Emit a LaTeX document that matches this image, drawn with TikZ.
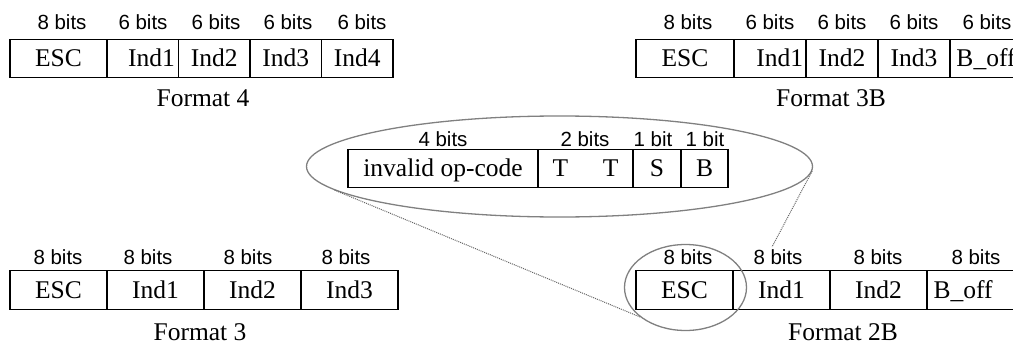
\documentclass[tikz,border=0pt]{standalone}
\usepackage{fontspec}
\setmainfont{Liberation Serif}
\newfontfamily\bitsfamily{Liberation Sans}
\usetikzlibrary{shapes.geometric}

\tikzset{
	cell/.style={draw, line width=1.4pt, minimum height=38.5pt, inner sep=0pt, text height=16.5pt, text depth=0pt, font=\fontsize{25.5}{30}\selectfont},
	bitlabel/.style={inner sep=0pt, text height=14.3pt, text depth=0pt, font=\bitsfamily\fontsize{20.5}{24}\selectfont},
	fmtname/.style={inner sep=0pt, text height=16.5pt, text depth=0pt, font=\fontsize{25.5}{30}\selectfont},
	zoomring/.style={draw=gray, line width=1.3pt, ellipse, inner sep=0pt},
	zoomline/.style={black!60, densely dotted, line width=1pt}
}

\begin{document}
\begin{tikzpicture}[x=1pt, y=-1pt]
	
	\clip (0,0) rectangle (1013,356);
	
	% Format 4
	\node [cell, minimum width=97] (fourEsc) at (58.5,58.5) {ESC};
	\node [cell, minimum width=71.5, text width=64, align=right] (fourA) at (142.75,58.5) {Ind1};
	\node [cell, minimum width=71.5] (fourB) at (214.25,58.5) {Ind2};
	\node [cell, minimum width=71.5] (fourC) at (285.75,58.5) {Ind3};
	\node [cell, minimum width=71.5] (fourD) at (357.25,58.5) {Ind4};
	\node [bitlabel] (fourBitsEsc) at (62,22) {8 bits};
	\node [bitlabel] (fourBitsA) at (143,22) {6 bits};
	\node [bitlabel] (fourBitsB) at (216,22) {6 bits};
	\node [bitlabel] (fourBitsC) at (288,22) {6 bits};
	\node [bitlabel] (fourBitsD) at (362,22) {6 bits};
	\node [fmtname] (fourName) at (203,98) {Format 4};
	
	% Format 3B
	\node [cell, minimum width=98] (threeBEsc) at (685,58.5) {ESC};
	\node [cell, minimum width=72, text width=66, align=right] (threeBA) at (770,58.5) {Ind1};
	\node [cell, minimum width=72] (threeBB) at (842,58.5) {Ind2};
	\node [cell, minimum width=72] (threeBC) at (914,58.5) {Ind3};
	\node [cell, minimum width=72] (threeBOff) at (986,58.5) {B\_off};
	\node [bitlabel] (threeBBitsEsc) at (688,22) {8 bits};
	\node [bitlabel] (threeBBitsA) at (770,22) {6 bits};
	\node [bitlabel] (threeBBitsB) at (842,22) {6 bits};
	\node [bitlabel] (threeBBitsC) at (914,22) {6 bits};
	\node [bitlabel] (threeBBitsOff) at (987,22) {6 bits};
	\node [fmtname] (threeBName) at (831,98) {Format 3B};
	
	% escape byte, opened up
	\node [cell, minimum width=190] (escCode) at (443,168.5) {invalid op-code};
	\node [cell, minimum width=95] (escT) at (585.5,168.5) {T\hspace{34.7pt}T};
	\node [cell, minimum width=48] (escS) at (657,168.5) {S};
	\node [cell, minimum width=47] (escB) at (704.5,168.5) {B};
	\node [bitlabel] (escBitsCode) at (443,139) {4 bits};
	\node [bitlabel] (escBitsT) at (585,139) {2 bits};
	\node [bitlabel] (escBitsS) at (653,139) {1 bit};
	\node [bitlabel] (escBitsB) at (705,139) {1 bit};
	
	% Format 3
	\node [cell, minimum width=97] (threeEsc) at (58.5,290) {ESC};
	\node [cell, minimum width=97] (threeA) at (155.5,290) {Ind1};
	\node [cell, minimum width=97] (threeB) at (252.5,290) {Ind2};
	\node [cell, minimum width=97] (threeC) at (349.5,290) {Ind3};
	\node [bitlabel] (threeBitsEsc) at (58,257) {8 bits};
	\node [bitlabel] (threeBitsA) at (148,257) {8 bits};
	\node [bitlabel] (threeBitsB) at (248,257) {8 bits};
	\node [bitlabel] (threeBitsC) at (346,257) {8 bits};
	\node [fmtname] (threeName) at (200,332) {Format 3};
	
	% Format 2B
	\node [cell, minimum width=97] (twoBEsc) at (684.5,290) {ESC};
	\node [cell, minimum width=97] (twoBA) at (781.5,290) {Ind1};
	\node [cell, minimum width=97] (twoBB) at (878.5,290) {Ind2};
	\node [cell, minimum width=97, text width=84, align=left] (twoBOff) at (975.5,290) {B\_off};
	\node [bitlabel] (twoBBitsEsc) at (688,257) {8 bits};
	\node [bitlabel] (twoBBitsA) at (778,257) {8 bits};
	\node [bitlabel] (twoBBitsB) at (878,257) {8 bits};
	\node [bitlabel] (twoBBitsOff) at (976,257) {8 bits};
	\node [fmtname] (twoBName) at (843,332) {Format 2B};
	
	% rings and the zoom lines
	\node [zoomring, minimum width=506, minimum height=101] (bigRing) at (559.5,166.5) {};
	\node [zoomring, minimum width=122, minimum height=86] (escRing) at (685.5,287.5) {};
	\coordinate (zoomEnd) at (772,247);
	\draw [zoomline] (bigRing.186) -- (escRing.213);
	\draw [zoomline] (bigRing.359) -- (zoomEnd);
	
\end{tikzpicture}
\end{document}
